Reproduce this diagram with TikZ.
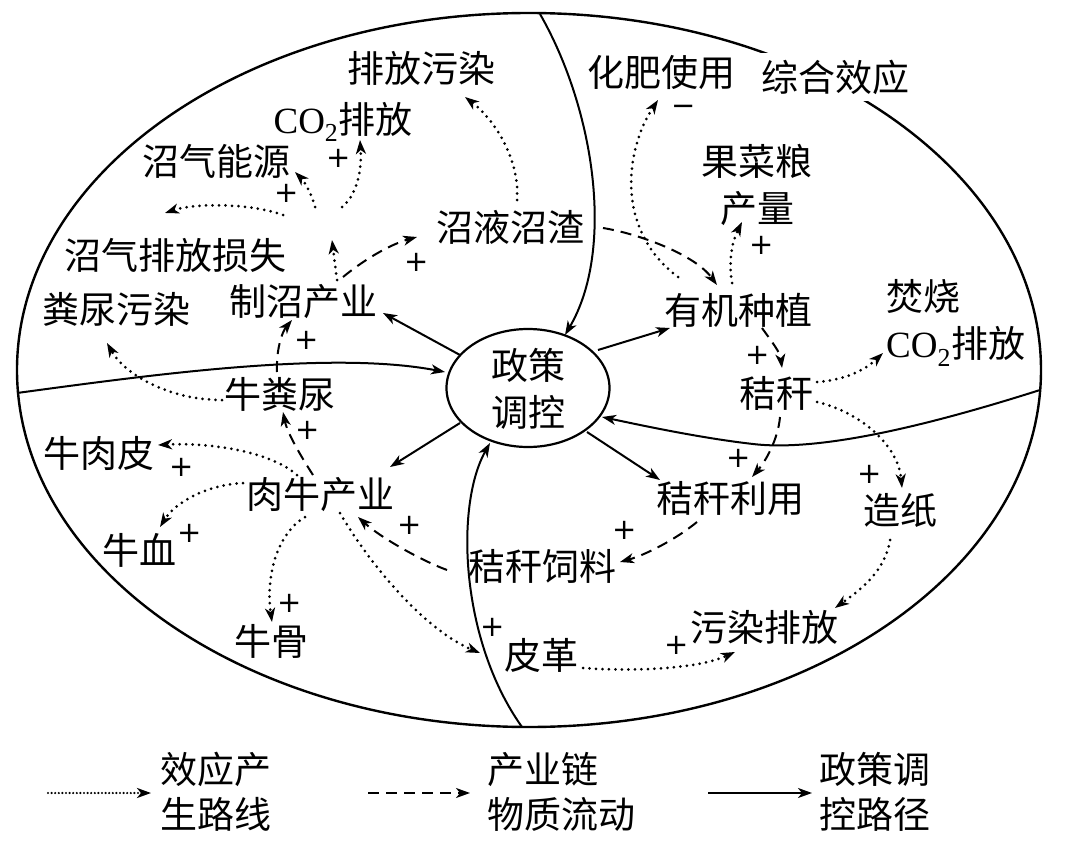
\documentclass[tikz,border=0pt]{standalone}
\usepackage{fontspec}
\setmainfont{Liberation Serif}
\newfontfamily\cjk{Noto Sans CJK SC}
\newfontfamily\symf{DejaVu Sans}
\usetikzlibrary{arrows.meta,shapes.geometric}
\tikzset{
 lbl/.style={font=\cjk\fontsize{37}{47}\selectfont, inner sep=1pt, align=center},
 leg/.style={font=\cjk\fontsize{37}{45}\selectfont, inner sep=1pt, align=left, anchor=west},
 sgn/.style={font=\symf\fontsize{29}{29}\selectfont, inner sep=0pt},
 tipa/.style={-{Stealth[length=14pt,width=10pt,inset=4pt]}},
 eff/.style={tipa, line width=3pt, dash pattern=on 0pt off 6.5pt, line cap=round},
 chain/.style={tipa, line width=2pt, dash pattern=on 11pt off 7pt},
 pol/.style={tipa, line width=2pt},
 border/.style={line width=2.4pt},
}
\begin{document}
\begin{tikzpicture}[x=1pt,y=-1pt]
\useasboundingbox (0,0) rectangle (1080,843);
% outer ellipse
\draw[border] (529,370) ellipse [x radius=512pt, y radius=357pt];
\coordinate (topA) at (540,14);
\coordinate (leftA) at (17,393);
\coordinate (rightA) at (1040,390);
\coordinate (botA) at (522,727);
% centre
\node[draw, ellipse, line width=2.2pt, minimum width=163pt, minimum height=118pt, inner sep=0pt] (zc) at (528,388) {};
\node[lbl] (zct) at (528,389) {政策\\调控};
% nodes
\node[lbl] (pf) at (421,68) {排放污染};
\node[lbl] (co2a) at (343,122) {{\rmfamily CO\textsubscript{2}}排放};
\node[lbl] (zqny) at (216,161) {沼气能源};
\node[lbl] (zqss) at (175,255) {沼气排放损失};
\node[lbl] (fnwr) at (116,309) {粪尿污染};
\node[lbl] (zzcy) at (303,302) {制沼产业};
\node[lbl] (zyzz) at (510,227) {沼液沼渣};
\node[lbl] (hfsy) at (661,72) {化肥使用};
\node[lbl, fill=white, inner sep=7pt] (zhxy) at (835,77) {综合效应};
\node[lbl] (gcl) at (757,185) {果菜粮\\产量};
\node[lbl] (yjzz) at (738,310) {有机种植};
\node[lbl, align=left, anchor=west] (fs) at (885,323) {焚烧\\{\rmfamily CO\textsubscript{2}}排放};
\node[lbl] (jg) at (776,393) {秸秆};
\node[lbl] (jgly) at (730,499) {秸秆利用};
\node[lbl] (zz) at (900,510) {造纸};
\node[lbl] (wrpf) at (764,627) {污染排放};
\node[lbl] (jgsl) at (542,566) {秸秆饲料};
\node[lbl] (pg) at (541,655) {皮革};
\node[lbl] (nfn) at (280,394) {牛粪尿};
\node[lbl] (nrp) at (99,453) {牛肉皮};
\node[lbl] (rncy) at (320,495) {肉牛产业};
\node[lbl] (nx) at (139,550) {牛血};
\node[lbl] (ngu) at (271,641) {牛骨};
% signs
\node[sgn] (s1) at (339,158) {+};
\node[sgn] (s2) at (287,193) {+};
\node[sgn] (s3) at (417,262) {+};
\node[sgn] (s4) at (307,340) {+};
\node[sgn] (s5) at (684,110) {−};
\node[sgn] (s6) at (762,245) {+};
\node[sgn] (s7) at (758,355) {+};
\node[sgn] (s8) at (739,458) {+};
\node[sgn] (s9) at (870,474) {+};
\node[sgn] (s10) at (625,530) {+};
\node[sgn] (s11) at (677,645) {+};
\node[sgn] (s12) at (493,627) {+};
\node[sgn] (s13) at (410,525) {+};
\node[sgn] (s14) at (308,430) {+};
\node[sgn] (s15) at (182,467) {+};
\node[sgn] (s16) at (190,533) {+};
\node[sgn] (s17) at (290,603) {+};
% policy paths
\draw[pol] ([shift={(-68,-33)}]zc.center) -- ([shift={(80,11)}]zzcy.center);
\draw[pol] ([shift={(70,-38)}]zc.center) -- ([shift={(-68,18)}]yjzz.center);
\draw[pol] ([shift={(-68,35)}]zc.center) -- ([shift={(70,-28)}]rncy.center);
\draw[pol] ([shift={(59,44)}]zc.center) -- ([shift={(-70,-19)}]jgly.center);
\draw[pol] (topA) .. controls +(55,96) and +(50,-85) .. ([shift={(37,-53)}]zc.center);
\draw[pol] (leftA) .. controls +(133,-18) and +(-115,-22) .. ([shift={(-83,-16)}]zc.center);
\draw[pol] (rightA) .. controls (930,425) and (820,452) .. (753,444) .. controls (700,438) and (640,425) .. ([shift={(74,29)}]zc.center);
\draw[pol] (botA) .. controls +(-62,-87) and +(-35,62) .. ([shift={(-38,55)}]zc.center);
% industry chain
\draw[chain] ([shift={(40,-25)}]zzcy.center) .. controls +(27,-22) and +(-22,6) .. ([shift={(-93,10)}]zyzz.center);
\draw[chain] ([shift={(93,1)}]zyzz.center) .. controls +(37,6) and +(-22,-30) .. ([shift={(-21,-25)}]yjzz.center);
\draw[chain] ([shift={(-3,-22)}]nfn.center) .. controls +(-1,-22) and +(-10,12) .. ([shift={(-11,18)}]zzcy.center);
\draw[chain] ([shift={(-7,-20)}]rncy.center) .. controls +(-13,-20) and +(4,20) .. ([shift={(3,18)}]nfn.center);
\draw[chain] ([shift={(-95,4)}]jgsl.center) .. controls +(-27,-10) and +(22,20) .. ([shift={(38,22)}]rncy.center);
\draw[chain] ([shift={(-33,23)}]jgly.center) .. controls +(-22,18) and +(25,-7) .. ([shift={(78,-4)}]jgsl.center);
\draw[chain] ([shift={(24,18)}]yjzz.center) .. controls +(10,14) and +(-2,-16) .. ([shift={(6,-25)}]jg.center);
\draw[chain] ([shift={(4,24)}]jg.center) .. controls +(-2,23) and +(13,-15) .. ([shift={(22,-22)}]jgly.center);
% effect paths
\coordinate (hubin) at (332,240);
\coordinate (h1) at (283,215);
\coordinate (h2) at (315,207);
\coordinate (h3) at (342,207);
\draw[eff] ([shift={(34,-22)}]zzcy.center) -- (hubin);
\draw[eff] (h1) .. controls +(-33,-12) and +(30,-10) .. ([shift={(-10,-42)}]zqss.center);
\draw[eff] (h2) .. controls +(-3,-12) and +(10,10) .. ([shift={(79,11)}]zqny.center);
\draw[eff] (h3) .. controls +(15,-12) and +(2,30) .. ([shift={(17,18)}]co2a.center);
\draw[eff] ([shift={(7,-27)}]zyzz.center) .. controls +(3,-40) and +(30,23) .. ([shift={(44,29)}]pf.center);
\draw[eff] ([shift={(-60,-33)}]yjzz.center) .. controls +(-63,-47) and +(-33,50) .. ([shift={(-3,28)}]hfsy.center);
\draw[eff] ([shift={(-6,-27)}]yjzz.center) .. controls +(-4,-25) and +(-9,18) .. ([shift={(-15,37)}]gcl.center);
\draw[eff] ([shift={(41,-11)}]jg.center) .. controls +(28,-2) and +(-18,17) .. ([shift={(-2,30)}]fs.west);
\draw[eff] ([shift={(41,9)}]jg.center) .. controls +(43,10) and +(-4,-43) .. ([shift={(2,-22)}]zz.center);
\draw[eff] ([shift={(-10,30)}]zz.center) .. controls +(-5,32) and +(25,-18) .. ([shift={(71,-19)}]wrpf.center);
\draw[eff] ([shift={(42,13)}]pg.center) .. controls +(57,4) and +(-35,16) .. ([shift={(-29,25)}]wrpf.center);
\draw[eff] ([shift={(20,18)}]rncy.center) .. controls +(30,52) and +(-55,-23) .. ([shift={(-61,-2)}]pg.center);
\draw[eff] ([shift={(-15,22)}]rncy.center) .. controls +(-30,18) and +(-6,-42) .. ([shift={(1,-19)}]ngu.center);
\draw[eff] ([shift={(-77,-12)}]rncy.center) .. controls +(-38,2) and +(15,-24) .. ([shift={(21,-23)}]nx.center);
\draw[eff] ([shift={(-23,-20)}]rncy.center) .. controls +(-22,-20) and +(62,-3) .. ([shift={(59,-8)}]nrp.center);
\draw[eff] ([shift={(-58,6)}]nfn.center) .. controls +(-52,0) and +(18,32) .. ([shift={(-9,34)}]fnwr.center);
% legend
\node[leg] (lt1) at (159,792) {效应产\\生路线};
\node[leg] (lt2) at (486,792) {产业链\\物质流动};
\node[leg] (lt3) at (818,792) {政策调\\控路径};
\coordinate (la) at (48,793);
\coordinate (lb) at (368,793);
\coordinate (lc) at (708,793);
\draw[eff, line width=2.4pt, dash pattern=on 0pt off 3.6pt] (la) -- ([shift={(-8,1)}]lt1.west);
\draw[chain] (lb) -- ([shift={(-16,1)}]lt2.west);
\draw[pol] (lc) -- ([shift={(-6,1)}]lt3.west);
\end{tikzpicture}
\end{document}
